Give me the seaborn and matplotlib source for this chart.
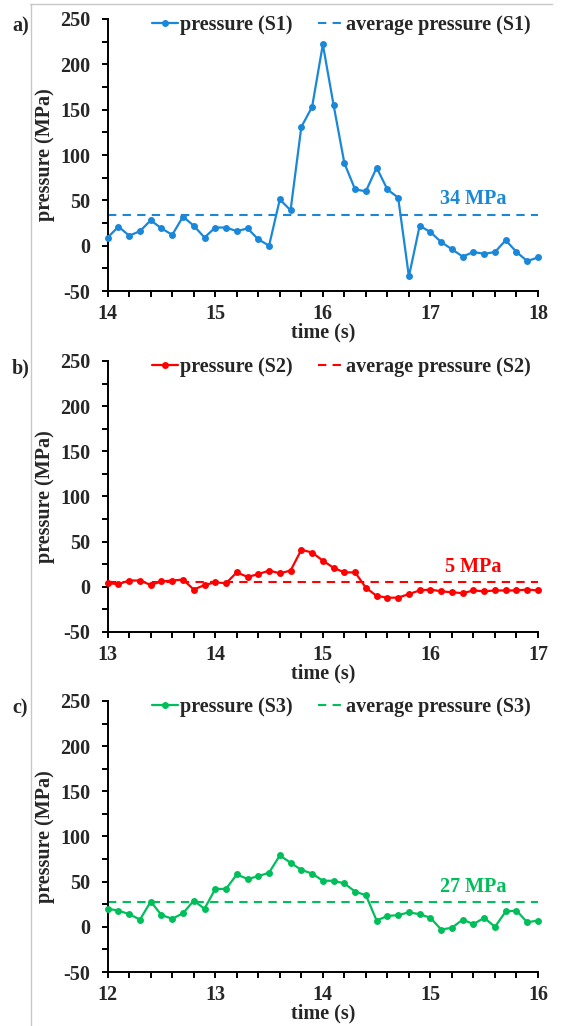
import numpy as np
import pandas as pd
import seaborn as sns
import matplotlib.pyplot as plt
from matplotlib.ticker import MultipleLocator
from matplotlib.lines import Line2D

# pressure readings, one every 0.1 s
s1_start = 14.0
s1_pressure = [9, 21, 11, 16, 28, 19, 12, 32, 22, 9, 20, 20, 16, 19, 7, 0,
               51, 39, 131, 153, 222, 155, 91, 62, 60, 86, 62, 53, -34, 22, 15,
               4, -4, -12, -7, -9, -7, 6, -7, -17, -13]
s1_avg = 34

s2_start = 13.0
s2_pressure = [4, 3, 7, 7, 2, 6, 7, 8, -3, 2, 5, 4, 16, 11, 14, 18, 15, 18,
               41, 38, 29, 21, 16, 16, -1, -10, -12, -12, -8, -4, -3, -5, -6,
               -7, -4, -5, -4, -4, -4, -3, -4]
s2_avg = 5

s3_start = 12.0
s3_pressure = [20, 18, 14, 8, 28, 13, 9, 15, 29, 20, 42, 42, 58, 53, 56, 60,
               79, 71, 63, 59, 51, 51, 48, 39, 35, 7, 12, 13, 16, 14, 10, -3,
               -1, 8, 3, 10, 0, 17, 18, 5, 7]
s3_avg = 27

sensors = ["S1", "S2", "S3"]
starts = [s1_start, s2_start, s3_start]
series = [s1_pressure, s2_pressure, s3_pressure]
averages = [s1_avg, s2_avg, s3_avg]
colors = ["#1A87D8", "#FF0000", "#00BF5A"]
panel_tags = ["a)", "b)", "c)"]

sns.set_style("ticks")
plt.rcParams["font.family"] = ["Liberation Serif", "DejaVu Serif"]
plt.rcParams["font.weight"] = "bold"
plt.rcParams["axes.unicode_minus"] = False

FS = 14.5

fig = plt.figure(figsize=(5.62, 10.26), dpi=100)

# light grey frame lines (top and left) as in the original screenshot
fig.add_artist(Line2D([30 / 562, 552 / 562], [1 - 4 / 1026, 1 - 4 / 1026],
                      color="#C8C8C8", lw=1.0, transform=fig.transFigure))
fig.add_artist(Line2D([30.5 / 562, 30.5 / 562], [1 - 4 / 1026, 0],
                      color="#C8C8C8", lw=1.0, transform=fig.transFigure))

tops = [19, 361, 701]
bottoms = [291, 632, 972]
left, right = 107.7, 538

for i in range(3):
    t0 = starts[i]
    df = pd.DataFrame({
        "time": np.round(t0 + np.arange(len(series[i])) * 0.1, 2),
        "pressure": series[i],
    })
    ax = fig.add_axes([left / 562, 1 - bottoms[i] / 1026,
                       (right - left) / 562, (bottoms[i] - tops[i]) / 1026])
    c = colors[i]
    sns.lineplot(data=df, x="time", y="pressure", ax=ax, color=c, lw=1.6,
                 marker="o", markersize=5, markeredgewidth=0,
                 label=f"pressure ({sensors[i]})", zorder=3, clip_on=False)
    ax.plot([t0, t0 + 4], [averages[i], averages[i]], ls=(0, (4, 3)),
            color=c, lw=1.5, label=f"average pressure ({sensors[i]})", zorder=2)

    ax.set_xlim(t0, t0 + 4)
    ax.set_ylim(-50, 250)
    ax.xaxis.set_major_locator(MultipleLocator(1))
    ax.xaxis.set_minor_locator(MultipleLocator(0.2))
    ax.yaxis.set_major_locator(MultipleLocator(50))
    ax.yaxis.set_minor_locator(MultipleLocator(25))
    ax.tick_params(which="both", direction="out", length=4.5, width=1.4,
                   color="black", labelsize=FS)
    ax.tick_params(axis="y", which="both", pad=8)
    ax.tick_params(axis="x", which="both", pad=4.5)
    for lab in ax.get_xticklabels() + ax.get_yticklabels():
        lab.set_fontweight("bold")
    sns.despine(ax=ax)
    for sp in ["left", "bottom"]:
        ax.spines[sp].set_linewidth(1.4)
        ax.spines[sp].set_color("black")

    ax.set_xlabel("time (s)", fontsize=FS, fontweight="bold", labelpad=-1)
    ax.set_ylabel("pressure (MPa)", fontsize=FS, fontweight="bold", labelpad=4)

    ax.text(t0 + 3.40, averages[i] + 6, f"{averages[i]} MPa", color=c,
            fontsize=FS, fontweight="bold", ha="center", va="bottom")

    leg = ax.legend(loc="upper center", bbox_to_anchor=(0.543, 1.045), ncol=2,
                    frameon=False, fontsize=FS, handlelength=1.3,
                    handletextpad=0.1, columnspacing=1.25, borderaxespad=0)
    for txt in leg.get_texts():
        txt.set_fontweight("bold")

    fig.text(12 / 562, 1 - (tops[i] + 7) / 1026, panel_tags[i], fontsize=FS,
             fontweight="bold", ha="left", va="center")

fig.savefig("out.png", dpi=100)
